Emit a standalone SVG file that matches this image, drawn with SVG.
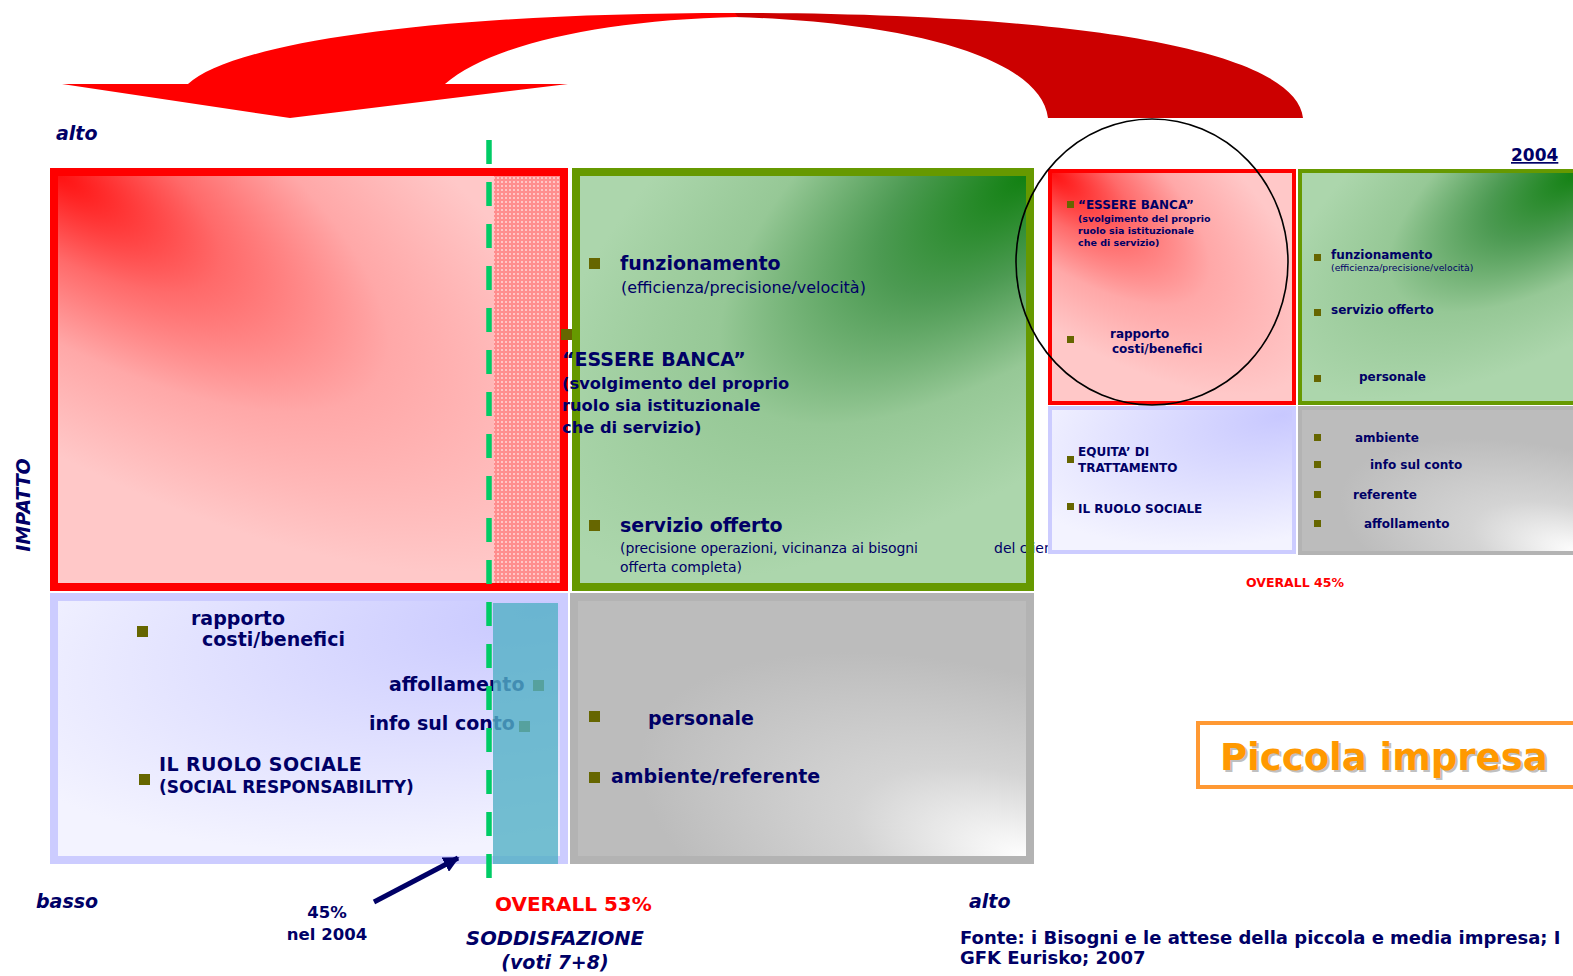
<svg xmlns="http://www.w3.org/2000/svg" width="1573" height="976" viewBox="0 0 1573 976">
<style>
.t{font-family:"DejaVu Sans",sans-serif;fill:#000066}
.b{font-weight:bold}
.i{font-style:italic;font-weight:bold}
.bul{fill:#666600}
.m{text-anchor:middle}
</style>
<defs>
<radialGradient id="gRed" cx="0" cy="0" r="1" gradientTransform="rotate(40) scale(1.35,0.55)">
<stop offset="0" stop-color="#ff1010"/>
<stop offset="0.3" stop-color="#ff6a6a"/>
<stop offset="0.6" stop-color="#ffa8a8"/>
<stop offset="1" stop-color="#ffc8c8"/>
</radialGradient>
<radialGradient id="gGreen" cx="0" cy="0" r="1" gradientTransform="translate(1,0) rotate(140) scale(1.35,0.6)">
<stop offset="0" stop-color="#108010"/>
<stop offset="0.3" stop-color="#4c9a52"/>
<stop offset="0.62" stop-color="#96c896"/>
<stop offset="1" stop-color="#acd6ac"/>
</radialGradient>
<radialGradient id="gLav" cx="0" cy="0" r="1" gradientTransform="translate(0.95,0.05) rotate(150) scale(1.2,0.8)">
<stop offset="0" stop-color="#c8c8ff"/>
<stop offset="1" stop-color="#f3f3ff"/>
</radialGradient>
<radialGradient id="gGray" cx="0" cy="0" r="1" gradientTransform="translate(1,1) rotate(-140) scale(1.0,0.6)">
<stop offset="0" stop-color="#ffffff"/>
<stop offset="0.45" stop-color="#d4d4d4"/>
<stop offset="1" stop-color="#bcbcbc"/>
</radialGradient>
<pattern id="dots" width="4" height="4" patternUnits="userSpaceOnUse">
<rect width="4" height="4" fill="#ff8e8e"/>
<rect x="1" y="1" width="2" height="2" fill="#ffc6c6"/>
</pattern>
<marker id="ah" viewBox="0 0 10 10" refX="9" refY="5" markerWidth="3.2" markerHeight="3.2" orient="auto">
<path d="M0,0 L10,5 L0,10 Z" fill="#000066"/>
</marker>
</defs>
<rect width="1573" height="976" fill="#ffffff"/>

<g id="big-arrow">
<path d="M735,13 C1050,13 1295,45 1303,118 L1048,118 C1040,55 900,22 735,17 Z" fill="#cc0000"/>
<path d="M62,84 L188,84 C230,45 420,13 735,13 L738,17 C600,20 490,45 445,84 L568,84 L290,118 Z" fill="#ff0000"/>
</g>

<g id="quad-top-left">
<rect x="54" y="172" width="510" height="415" fill="url(#gRed)" stroke="#ff0000" stroke-width="8"/>
<rect x="494" y="176" width="66" height="407" fill="url(#dots)"/>
</g>

<g id="quad-top-right">
<rect x="576" y="172" width="454" height="415" fill="url(#gGreen)"/>
<rect x="589" y="258" width="11" height="11" class="bul"/>
<text x="620" y="270" class="t b" font-size="19">funzionamento</text>
<text x="621" y="293" class="t" font-size="16">(efficienza/precisione/velocità)</text>
<rect x="589" y="520" width="11" height="11" class="bul"/>
<text x="620" y="532" class="t b" font-size="19">servizio offerto</text>
<text x="620" y="553" class="t" font-size="14" textLength="298">(precisione operazioni, vicinanza ai bisogni</text>
<text x="994" y="553" class="t" font-size="14">del cliente</text>
<text x="620" y="572" class="t" font-size="14">offerta completa)</text>
<rect x="576" y="172" width="454" height="415" fill="none" stroke="#669900" stroke-width="8"/>
</g>

<g id="quad-bottom-left">
<rect x="54" y="597" width="510" height="263" fill="url(#gLav)" stroke="#ccccff" stroke-width="8"/>
<rect x="137" y="626" width="11" height="11" class="bul"/>
<text x="191" y="625" class="t b" font-size="19">rapporto</text>
<text x="202" y="646" class="t b" font-size="19">costi/benefici</text>
<text x="389" y="691" class="t b" font-size="19">affollamento</text>
<rect x="533" y="680" width="11" height="11" class="bul"/>
<text x="369" y="730" class="t b" font-size="19">info sul conto</text>
<rect x="519" y="721" width="11" height="11" class="bul"/>
<rect x="139" y="774" width="11" height="11" class="bul"/>
<text x="159" y="771" class="t b" font-size="19" letter-spacing="0.4">IL RUOLO SOCIALE</text>
<text x="159" y="793" class="t b" font-size="17">(SOCIAL RESPONSABILITY)</text>
<rect x="493" y="603" width="65" height="261" fill="#52b0c6" fill-opacity="0.8"/>
</g>

<g id="quad-bottom-right">
<rect x="574" y="597" width="456" height="263" fill="url(#gGray)" stroke="#b3b3b3" stroke-width="8"/>
<rect x="589" y="711" width="11" height="11" class="bul"/>
<text x="648" y="725" class="t b" font-size="19">personale</text>
<rect x="589" y="772" width="11" height="11" class="bul"/>
<text x="611" y="783" class="t b" font-size="19">ambiente/referente</text>
</g>

<g id="essere-banca">
<rect x="561" y="329" width="11" height="11" class="bul"/>
<text x="562" y="366" class="t b" font-size="19">“ESSERE BANCA”</text>
<text x="562" y="389" class="t b" font-size="16.3">(svolgimento del proprio</text>
<text x="562" y="411" class="t b" font-size="16.3">ruolo sia istituzionale</text>
<text x="562" y="433" class="t b" font-size="16.3">che di servizio)</text>
</g>

<g id="connectors">
<line x1="489" y1="140" x2="489" y2="878" stroke="#00cc66" stroke-width="5.5" stroke-dasharray="24 18"/>
<line x1="374" y1="902" x2="458" y2="858" stroke="#000066" stroke-width="5" marker-end="url(#ah)"/>
</g>

<g id="axis-labels">
<text x="56" y="140" class="t i" font-size="19">alto</text>
<text transform="translate(30,505) rotate(-90)" class="t i m" font-size="19">IMPATTO</text>
<text x="36" y="908" class="t i" font-size="19">basso</text>
<text x="969" y="908" class="t i" font-size="19">alto</text>
<text x="495" y="911" class="t b" font-size="20" style="fill:#ff0000">OVERALL 53%</text>
<text x="555" y="945" class="t i m" font-size="19.5">SODDISFAZIONE</text>
<text x="555" y="969" class="t i m" font-size="19">(voti 7+8)</text>
<text x="327" y="918" class="t b m" font-size="16.5">45%</text>
<text x="327" y="940" class="t b m" font-size="16.5">nel 2004</text>
</g>

<g id="panel-2004-red">
<rect x="1050" y="171" width="244" height="232" fill="url(#gRed)" stroke="#ff0000" stroke-width="4"/>
<rect x="1067" y="201" width="7" height="7" class="bul"/>
<text x="1078" y="209" class="t b" font-size="12">“ESSERE BANCA”</text>
<text x="1078" y="222" class="t b" font-size="9.5">(svolgimento del proprio</text>
<text x="1078" y="234" class="t b" font-size="9.5">ruolo sia istituzionale</text>
<text x="1078" y="246" class="t b" font-size="9.5">che di servizio)</text>
<rect x="1067" y="336" width="7" height="7" class="bul"/>
<text x="1110" y="338" class="t b" font-size="12">rapporto</text>
<text x="1112" y="353" class="t b" font-size="12">costi/benefici</text>
</g>

<g id="panel-2004-green">
<rect x="1300" y="171" width="280" height="232" fill="url(#gGreen)" stroke="#669900" stroke-width="4"/>
<rect x="1314" y="254" width="7" height="7" class="bul"/>
<text x="1331" y="259" class="t b" font-size="12">funzionamento</text>
<text x="1331" y="271" class="t" font-size="9.3">(efficienza/precisione/velocità)</text>
<rect x="1314" y="309" width="7" height="7" class="bul"/>
<text x="1331" y="314" class="t b" font-size="12">servizio offerto</text>
<rect x="1314" y="375" width="7" height="7" class="bul"/>
<text x="1359" y="381" class="t b" font-size="12">personale</text>
</g>

<g id="panel-2004-lavender">
<rect x="1050" y="408" width="244" height="144" fill="url(#gLav)" stroke="#ccccff" stroke-width="4"/>
<rect x="1067" y="456" width="7" height="7" class="bul"/>
<text x="1078" y="456" class="t b" font-size="12">EQUITA’ DI</text>
<text x="1078" y="472" class="t b" font-size="12">TRATTAMENTO</text>
<rect x="1067" y="503" width="7" height="7" class="bul"/>
<text x="1078" y="513" class="t b" font-size="12">IL RUOLO SOCIALE</text>
</g>

<g id="panel-2004-gray">
<rect x="1300" y="408" width="280" height="145" fill="url(#gGray)" stroke="#b3b3b3" stroke-width="4"/>
<rect x="1314" y="434" width="7" height="7" class="bul"/>
<text x="1355" y="442" class="t b" font-size="12">ambiente</text>
<rect x="1314" y="461" width="7" height="7" class="bul"/>
<text x="1370" y="469" class="t b" font-size="12">info sul conto</text>
<rect x="1314" y="491" width="7" height="7" class="bul"/>
<text x="1353" y="499" class="t b" font-size="12">referente</text>
<rect x="1314" y="520" width="7" height="7" class="bul"/>
<text x="1364" y="528" class="t b" font-size="12">affollamento</text>
</g>

<g id="circle-highlight">
<ellipse cx="1152" cy="262" rx="136" ry="143" fill="none" stroke="#000000" stroke-width="1.6"/>
</g>

<g id="labels-2004">
<text x="1511" y="161" class="t b" font-size="17" text-decoration="underline">2004</text>
<text x="1295" y="587" class="t b m" font-size="12.5" style="fill:#ff0000">OVERALL 45%</text>
</g>

<g id="piccola-impresa">
<rect x="1198" y="723" width="380" height="64" fill="#ffffff" stroke="#ff9933" stroke-width="4"/>
<text x="1222" y="772" font-family="DejaVu Sans, sans-serif" font-weight="bold" font-size="37" fill="#c0c0c0">Piccola impresa</text>
<text x="1220" y="770" font-family="DejaVu Sans, sans-serif" font-weight="bold" font-size="37" fill="#ff9900">Piccola impresa</text>
</g>

<g id="fonte">
<text x="960" y="944" class="t b" font-size="18">Fonte: i Bisogni e le attese della piccola e media impresa; I</text>
<text x="960" y="964" class="t b" font-size="18">GFK Eurisko; 2007</text>
</g>
</svg>
